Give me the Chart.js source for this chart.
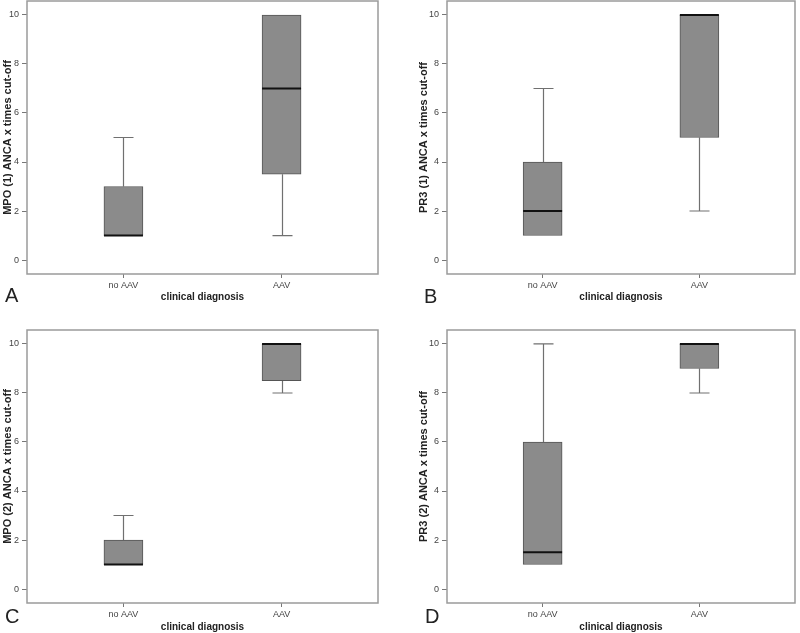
<!DOCTYPE html>
<html><head><meta charset="utf-8">
<script src="https://cdn.jsdelivr.net/npm/chart.js@4.4.1/dist/chart.umd.min.js"></script>
<style>
html,body{margin:0;padding:0;background:#fff;}
body{width:800px;height:633px;position:relative;overflow:hidden;font-family:"Liberation Sans",Arial,sans-serif;}
.panel{position:absolute;}
.letter{position:absolute;font-size:20px;line-height:20px;color:#222;font-family:"Liberation Sans",Arial,sans-serif;}
</style></head><body>
<div class="panel" style="left:0;top:0;width:400px;height:310px"><canvas id="cA"></canvas></div>
<div class="panel" style="left:400px;top:0;width:400px;height:310px"><canvas id="cB"></canvas></div>
<div class="panel" style="left:0;top:310px;width:400px;height:323px"><canvas id="cC"></canvas></div>
<div class="panel" style="left:400px;top:310px;width:400px;height:323px"><canvas id="cD"></canvas></div>
<div class="letter" style="left:5px;top:285px">A</div>
<div class="letter" style="left:424px;top:286px">B</div>
<div class="letter" style="left:5px;top:606px">C</div>
<div class="letter" style="left:425px;top:606px">D</div>
<script>
// ---- data ----
const categories = ['no AAV', 'AAV'];
const yTicks = [0, 2, 4, 6, 8, 10];
const xTitle = 'clinical diagnosis';

// Panel A: MPO (1)
const mpo1Min    = [1, 1];
const mpo1Q1     = [1, 3.5];
const mpo1Median = [1, 7];
const mpo1Q3     = [3, 10];
const mpo1Max    = [5, 10];

// Panel B: PR3 (1)
const pr31Min    = [1, 2];
const pr31Q1     = [1, 5];
const pr31Median = [2, 10];
const pr31Q3     = [4, 10];
const pr31Max    = [7, 10];

// Panel C: MPO (2)
const mpo2Min    = [1, 8];
const mpo2Q1     = [1, 8.5];
const mpo2Median = [1, 10];
const mpo2Q3     = [2, 10];
const mpo2Max    = [3, 10];

// Panel D: PR3 (2)
const pr32Min    = [1, 8];
const pr32Q1     = [1, 9];
const pr32Median = [1.5, 10];
const pr32Q3     = [6, 10];
const pr32Max    = [10, 10];

// ---- panels ----
const panels = [
  {id:'cA', yTitle:'MPO (1) ANCA x times cut-off', min:mpo1Min, q1:mpo1Q1, med:mpo1Median, q3:mpo1Q3, max:mpo1Max,
   pad:{left:0, right:22, top:1, bottom:0}, yWidth:27, xHeight:36, xTitlePad:6.5},
  {id:'cB', yTitle:'PR3 (1) ANCA x times cut-off', min:pr31Min, q1:pr31Q1, med:pr31Median, q3:pr31Q3, max:pr31Max,
   pad:{left:16, right:5, top:1, bottom:0}, yWidth:31, xHeight:36, xTitlePad:6.5},
  {id:'cC', yTitle:'MPO (2) ANCA x times cut-off', min:mpo2Min, q1:mpo2Q1, med:mpo2Median, q3:mpo2Q3, max:mpo2Max,
   pad:{left:0, right:22, top:20, bottom:0}, yWidth:27, xHeight:30, xTitlePad:0},
  {id:'cD', yTitle:'PR3 (2) ANCA x times cut-off', min:pr32Min, q1:pr32Q1, med:pr32Median, q3:pr32Q3, max:pr32Max,
   pad:{left:16, right:5, top:20, bottom:0}, yWidth:31, xHeight:30, xTitlePad:0}
];

const FONT = '"Liberation Sans", Arial, sans-serif';

function makeBoxPlugin(p) {
  return {
    id: 'boxExtras',
    beforeDatasetsDraw(chart) {
      const {ctx, scales:{x, y}} = chart;
      ctx.save();
      ctx.strokeStyle = '#707070';
      ctx.lineWidth = 1.2;
      categories.forEach((c, i) => {
        const cx = Math.round(x.getPixelForValue(i)) + 0.5;
        const capHalf = 10;
        ctx.beginPath();
        if (p.max[i] > p.q3[i]) {
          const yTop = y.getPixelForValue(p.max[i]);
          ctx.moveTo(cx, y.getPixelForValue(p.q3[i]));
          ctx.lineTo(cx, yTop);
          ctx.moveTo(cx - capHalf, yTop);
          ctx.lineTo(cx + capHalf, yTop);
        }
        if (p.min[i] < p.q1[i]) {
          const yBot = y.getPixelForValue(p.min[i]);
          ctx.moveTo(cx, y.getPixelForValue(p.q1[i]));
          ctx.lineTo(cx, yBot);
          ctx.moveTo(cx - capHalf, yBot);
          ctx.lineTo(cx + capHalf, yBot);
        }
        ctx.stroke();
      });
      ctx.restore();
    },
    afterDatasetsDraw(chart) {
      const {ctx, scales:{y}, chartArea:a} = chart;
      const meta = chart.getDatasetMeta(0);
      ctx.save();
      ctx.strokeStyle = '#111';
      ctx.lineWidth = 2;
      meta.data.forEach((bar, i) => {
        const half = bar.width / 2;
        const ym = y.getPixelForValue(p.med[i]);
        ctx.beginPath();
        ctx.moveTo(bar.x - half, ym);
        ctx.lineTo(bar.x + half, ym);
        ctx.stroke();
      });
      ctx.strokeStyle = '#9a9a9a';
      ctx.lineWidth = 1.5;
      ctx.strokeRect(a.left, a.top, a.right - a.left, a.bottom - a.top);
      ctx.restore();
    }
  };
}

panels.forEach(p => {
  new Chart(document.getElementById(p.id), {
    type: 'bar',
    data: {
      datasets: [{
        data: categories.map((c, i) => ({x: i, y: [p.q1[i], p.q3[i]]})),
        backgroundColor: '#8b8b8b',
        borderColor: '#555555',
        borderWidth: 1,
        borderSkipped: false,
        barThickness: 39
      }]
    },
    options: {
      responsive: true,
      maintainAspectRatio: false,
      animation: false,
      layout: {padding: p.pad},
      plugins: {legend: {display: false}, tooltip: {enabled: false}},
      scales: {
        x: {
          type: 'linear',
          offset: false,
          min: -0.61,
          max: 1.61,
          afterBuildTicks: s => { s.ticks = categories.map((c, i) => ({value: i})); },
          afterFit: s => { s.height = p.xHeight; s.paddingLeft = 0; s.paddingRight = 0; },
          ticks: {
            callback: (v, idx) => categories[idx],
            font: {family: FONT, size: 9},
            color: '#444',
            padding: 2,
            maxRotation: 0,
            autoSkip: false
          },
          grid: {offset: false, drawOnChartArea: false, drawTicks: true, tickLength: 4, color: '#777'},
          border: {display: false},
          title: {display: true, text: xTitle, font: {family: FONT, size: 10, weight: 'bold'}, color: '#222',
                  padding: {top: 0, bottom: p.xTitlePad}}
        },
        y: {
          min: -0.57,
          max: 10.57,
          afterBuildTicks: s => { s.ticks = yTicks.map(v => ({value: v})); },
          afterFit: s => { s.width = p.yWidth; s.paddingTop = 0; s.paddingBottom = 0; },
          ticks: {font: {family: FONT, size: 9}, color: '#444', padding: 3},
          grid: {drawOnChartArea: false, drawTicks: true, tickLength: 5, color: '#777'},
          border: {display: false},
          title: {display: true, text: p.yTitle, font: {family: FONT, size: 11, weight: 'bold'}, color: '#222',
                  padding: {top: 1, bottom: 0}}
        }
      }
    },
    plugins: [makeBoxPlugin(p)]
  });
});
</script>
</body></html>
